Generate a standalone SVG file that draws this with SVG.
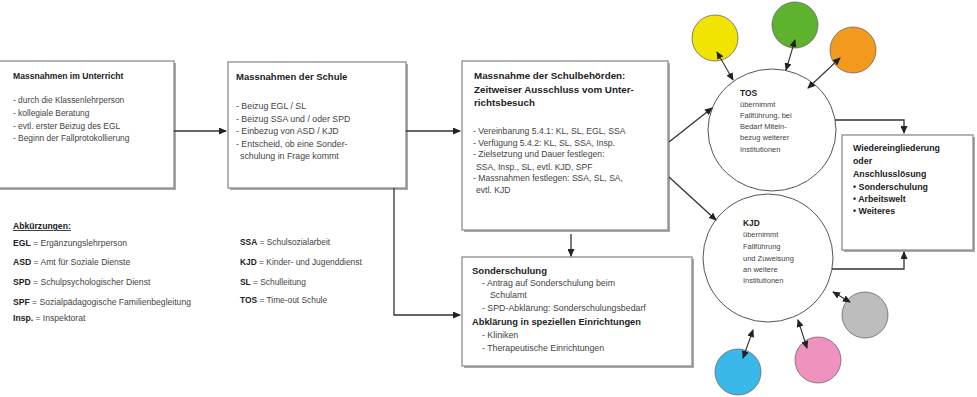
<svg xmlns="http://www.w3.org/2000/svg" width="977" height="397" viewBox="0 0 977 397">
<style>
text{font-family:"Liberation Sans",Arial,sans-serif;fill:#444;font-size:8.4px}
.b{font-weight:bold;fill:#222}
.t{font-weight:bold;fill:#222;font-size:9.5px}
.s{font-size:7.5px}
.m{font-size:8.8px}
.box{fill:#fff;stroke:#8c8c8c;stroke-width:1.3}
.sh{fill:#a8a8a8}
.ring{fill:#fff;stroke:#555;stroke-width:1}
.dot{stroke:#666;stroke-width:0.8}
.c{fill:none;stroke:#333;stroke-width:1.3}
.d{fill:none;stroke:#333;stroke-width:1.1}
</style>
<defs>
<marker id="ah" markerWidth="8" markerHeight="7" refX="7" refY="3.5" orient="auto-start-reverse" markerUnits="userSpaceOnUse"><path d="M0,0 L8,3.5 L0,7 z" fill="#222"/></marker>
</defs>
<rect width="977" height="397" fill="#fff"/>

<g id="unterricht">
<rect class="sh" x="0" y="63" width="176" height="127"/>
<rect class="box" x="-2" y="61" width="176" height="127"/>
<text class="t" x="13" y="79" style="font-size:8.6px">Massnahmen im Unterricht</text>
<text x="13" y="103">- durch die Klassenlehrperson</text>
<text x="13" y="116">- kollegiale Beratung</text>
<text x="13" y="129">- evtl. erster Beizug des EGL</text>
<text x="13" y="141">- Beginn der Fallprotokollierung</text>
</g>

<g id="schule">
<rect class="sh" x="230" y="64" width="178" height="126"/>
<rect class="box" x="228" y="62" width="178" height="126"/>
<text class="t" x="236" y="80">Massnahmen der Schule</text>
<text class="m" x="236" y="109">- Beizug EGL / SL</text>
<text class="m" x="236" y="122">- Beizug SSA und / oder SPD</text>
<text class="m" x="236" y="134">- Einbezug von ASD / KJD</text>
<text class="m" x="236" y="147">- Entscheid, ob eine Sonder-</text>
<text class="m" x="240" y="159">schulung in Frage kommt</text>
</g>

<g id="schulbehoerden">
<rect class="sh" x="464" y="63" width="206" height="169"/>
<rect class="box" x="462" y="61" width="206" height="169"/>
<text class="t" x="474" y="79" style="font-size:9.8px">Massnahme der Schulbehörden:</text>
<text class="t" x="474" y="93" style="font-size:9.8px">Zeitweiser Ausschluss vom Unter-</text>
<text class="t" x="474" y="106" style="font-size:9.8px">richtsbesuch</text>
<text x="473" y="134" style="font-size:8.6px">- Vereinbarung 5.4.1: KL, SL, EGL, SSA</text>
<text x="473" y="146" style="font-size:8.6px">- Verfügung 5.4.2: KL, SL, SSA, Insp.</text>
<text x="473" y="157" style="font-size:8.6px">- Zielsetzung und Dauer festlegen:</text>
<text x="476" y="170" style="font-size:8.6px">SSA, Insp., SL, evtl. KJD, SPF</text>
<text x="473" y="181" style="font-size:8.6px">- Massnahmen festlegen: SSA, SL, SA,</text>
<text x="476" y="193" style="font-size:8.6px">evtl. KJD</text>
</g>

<g id="sonderschulung">
<rect class="sh" x="464" y="259" width="230" height="109"/>
<rect class="box" x="462" y="257" width="230" height="109"/>
<text class="t" x="472" y="274">Sonderschulung</text>
<text class="m" x="482" y="286">-  Antrag auf Sonderschulung  beim</text>
<text class="m" x="490" y="298">Schulamt</text>
<text class="m" x="482" y="311">-  SPD-Abklärung: Sonderschulungsbedarf</text>
<text class="t" x="472" y="325" style="font-size:9.3px">Abklärung in speziellen Einrichtungen</text>
<text class="m" x="482" y="338">-  Kliniken</text>
<text class="m" x="482" y="351">- Therapeutische Einrichtungen</text>
</g>

<g id="abkuerzungen">
<text class="b" x="13" y="229" text-decoration="underline" style="font-size:8.6px">Abkürzungen:</text>
<text x="13" y="246" style="font-size:8.6px"><tspan class="b">EGL</tspan> = Ergänzungslehrperson</text>
<text x="13" y="265" style="font-size:8.6px"><tspan class="b">ASD</tspan> = Amt für Soziale Dienste</text>
<text x="13" y="285" style="font-size:8.6px"><tspan class="b">SPD</tspan> = Schulpsychologischer Dienst</text>
<text x="13" y="305" style="font-size:8.6px"><tspan class="b">SPF</tspan> = Sozialpädagogische Familienbegleitung</text>
<text x="13" y="321" style="font-size:8.6px"><tspan class="b">Insp.</tspan> = Inspektorat</text>
<text x="240" y="245"><tspan class="b">SSA</tspan> = Schulsozialarbeit</text>
<text x="240" y="265"><tspan class="b">KJD</tspan> = Kinder- und Jugenddienst</text>
<text x="240" y="285"><tspan class="b">SL</tspan>   = Schulleitung</text>
<text x="240" y="303"><tspan class="b">TOS</tspan> = Time-out Schule</text>
</g>

<g id="tos">
<ellipse class="ring" cx="772" cy="130" rx="64" ry="61"/>
<text class="b" x="740" y="96">TOS</text>
<text class="s" x="740" y="107">übernimmt</text>
<text class="s" x="740" y="118">Fallführung, bei</text>
<text class="s" x="740" y="129">Bedarf Mitein-</text>
<text class="s" x="740" y="140">bezug weiterer</text>
<text class="s" x="740" y="152">Institutionen</text>
</g>

<g id="kjd">
<ellipse class="ring" cx="768" cy="258" rx="65" ry="64"/>
<text class="b" x="743" y="226">KJD</text>
<text class="s" x="743" y="237">übernimmt</text>
<text class="s" x="743" y="249">Fallführung</text>
<text class="s" x="743" y="261">und Zuweisung</text>
<text class="s" x="743" y="272">an weitere</text>
<text class="s" x="743" y="283">Institutionen</text>
</g>

<g id="wiedereingliederung">
<rect class="sh" x="844" y="137" width="131" height="115"/>
<rect class="box" x="842" y="135" width="131" height="115"/>
<text class="b" x="853" y="151" style="font-size:8.8px">Wiedereingliederung</text>
<text class="b" x="853" y="164" style="font-size:8.8px">oder</text>
<text class="b" x="853" y="177" style="font-size:8.8px">Anschlusslösung</text>
<text class="b" x="853" y="190" style="font-size:8.8px">• Sonderschulung</text>
<text class="b" x="853" y="202" style="font-size:8.8px">• Arbeitswelt</text>
<text class="b" x="853" y="214" style="font-size:8.8px">• Weiteres</text>
</g>

<g id="yellow"><circle class="dot" cx="715" cy="38" r="23" fill="#f0e400"/></g>
<g id="green"><circle class="dot" cx="795" cy="25" r="23" fill="#5fb22e"/></g>
<g id="orange"><circle class="dot" cx="853" cy="50" r="23" fill="#f39a1e"/></g>
<g id="blue"><circle class="dot" cx="738" cy="372" r="23" fill="#3bb8ea"/></g>
<g id="pink"><circle class="dot" cx="818" cy="360" r="23" fill="#ef92bd"/></g>
<g id="gray"><circle class="dot" cx="865" cy="315" r="23" fill="#bdbdbd"/></g>

<g id="connectors">
<path class="c" d="M174,131 H226" marker-end="url(#ah)"/>
<path class="c" d="M406,131 H460" marker-end="url(#ah)"/>
<path class="c" d="M394,188 V315 H460" marker-end="url(#ah)"/>
<path class="c" d="M571,234 V256" marker-end="url(#ah)"/>
<path class="c" d="M669,142 L712,108" marker-end="url(#ah)"/>
<path class="c" d="M669,177 L716,220" marker-end="url(#ah)"/>
<path class="c" d="M835,120 H904 V133" marker-end="url(#ah)"/>
<path class="c" d="M832,269 H904 V252" marker-end="url(#ah)"/>
<path class="d" d="M717,52 L733,80" marker-start="url(#ah)" marker-end="url(#ah)"/>
<path class="d" d="M795,40 L786,70" marker-start="url(#ah)" marker-end="url(#ah)"/>
<path class="d" d="M840,58 L808,88" marker-start="url(#ah)" marker-end="url(#ah)"/>
<path class="d" d="M743,358 L753,330" marker-start="url(#ah)" marker-end="url(#ah)"/>
<path class="d" d="M807,348 L798,320" marker-start="url(#ah)" marker-end="url(#ah)"/>
<path class="d" d="M850,302 L833,292" marker-start="url(#ah)" marker-end="url(#ah)"/>
</g>
</svg>
